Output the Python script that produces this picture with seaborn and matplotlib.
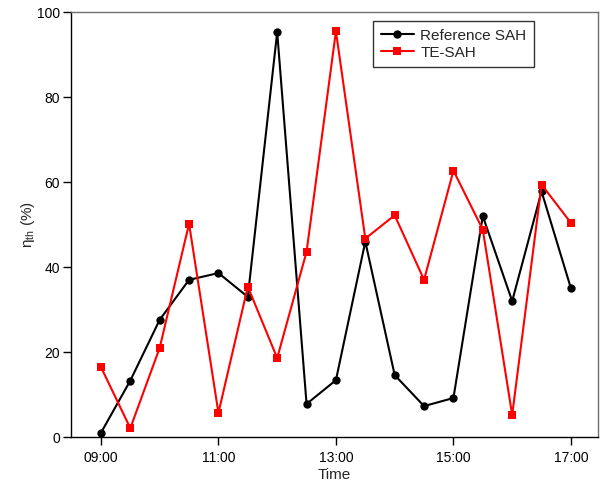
import matplotlib
matplotlib.use("Agg")
import matplotlib.pyplot as plt
import matplotlib.ticker as mticker
import pandas as pd
import seaborn as sns

# time of day in hours, 30 min steps
HOURS = [9.0, 9.5, 10.0, 10.5, 11.0, 11.5, 12.0, 12.5, 13.0,
         13.5, 14.0, 14.5, 15.0, 15.5, 16.0, 16.5, 17.0]
REF_SAH = [1.0, 13.3, 27.6, 37.0, 38.6, 33.0, 95.3, 7.8, 13.4,
           46.0, 14.6, 7.3, 9.2, 52.0, 32.0, 57.8, 35.0]
TE_SAH = [16.5, 2.1, 21.0, 50.2, 5.7, 35.4, 18.6, 43.6, 95.5,
          46.7, 52.2, 37.0, 62.7, 48.8, 5.2, 59.4, 50.4]
SERIES = ["Reference SAH", "TE-SAH"]
X_TICKS = [9, 11, 13, 15, 17]

df = pd.DataFrame({
    "hour": HOURS * 2,
    "eta": REF_SAH + TE_SAH,
    "series": [SERIES[0]] * len(HOURS) + [SERIES[1]] * len(HOURS),
})

sns.set_style("ticks")
plt.rcParams["font.family"] = ["Liberation Sans", "DejaVu Sans"]
plt.rcParams["mathtext.fontset"] = "custom"
plt.rcParams["mathtext.rm"] = "Liberation Sans"
plt.rcParams["mathtext.it"] = "Liberation Sans"

fig = plt.figure(figsize=(6.04, 4.83), dpi=100)
ax = fig.add_axes([0.1175, 0.095, 0.8725, 0.88])

sns.lineplot(data=df, x="hour", y="eta", hue="series", style="series",
             palette={SERIES[0]: "black", SERIES[1]: "#ff0000"},
             markers={SERIES[0]: "o", SERIES[1]: "s"}, dashes=False,
             markersize=6, markeredgewidth=0, linewidth=1.5, ax=ax)

ax.set_xlim(8.49, 17.46)
ax.set_ylim(0, 100)
ax.set_xticks(X_TICKS)
ax.xaxis.set_major_formatter(mticker.FuncFormatter(lambda v, p: f"{int(v):02d}:00"))
ax.set_yticks([0, 20, 40, 60, 80, 100])
ax.tick_params(direction="out", length=6, width=1, labelsize=10, colors="black")
ax.tick_params(axis="x", pad=4)
ax.tick_params(axis="y", pad=2)
ax.set_xlabel("Time", fontsize=11)
ax.set_ylabel(r"$\eta_{\mathrm{th}}$ (%)", fontsize=11)
ax.xaxis.set_label_coords(0.5, -0.072)
ax.yaxis.set_label_coords(-0.064, 0.5)

for side in ["left", "bottom"]:
    ax.spines[side].set_color("black")
    ax.spines[side].set_linewidth(1)
for side in ["top", "right"]:
    ax.spines[side].set_color("#707070")
    ax.spines[side].set_linewidth(1)

leg = ax.legend(loc="upper left", bbox_to_anchor=(0.573, 0.979), frameon=True,
                fancybox=False, edgecolor="black", fontsize=11, title=None,
                borderaxespad=0, handlelength=2.2, handletextpad=0.4,
                borderpad=0.5, labelspacing=0.2)
leg.get_frame().set_linewidth(1)

fig.savefig("out.png", dpi=100)
